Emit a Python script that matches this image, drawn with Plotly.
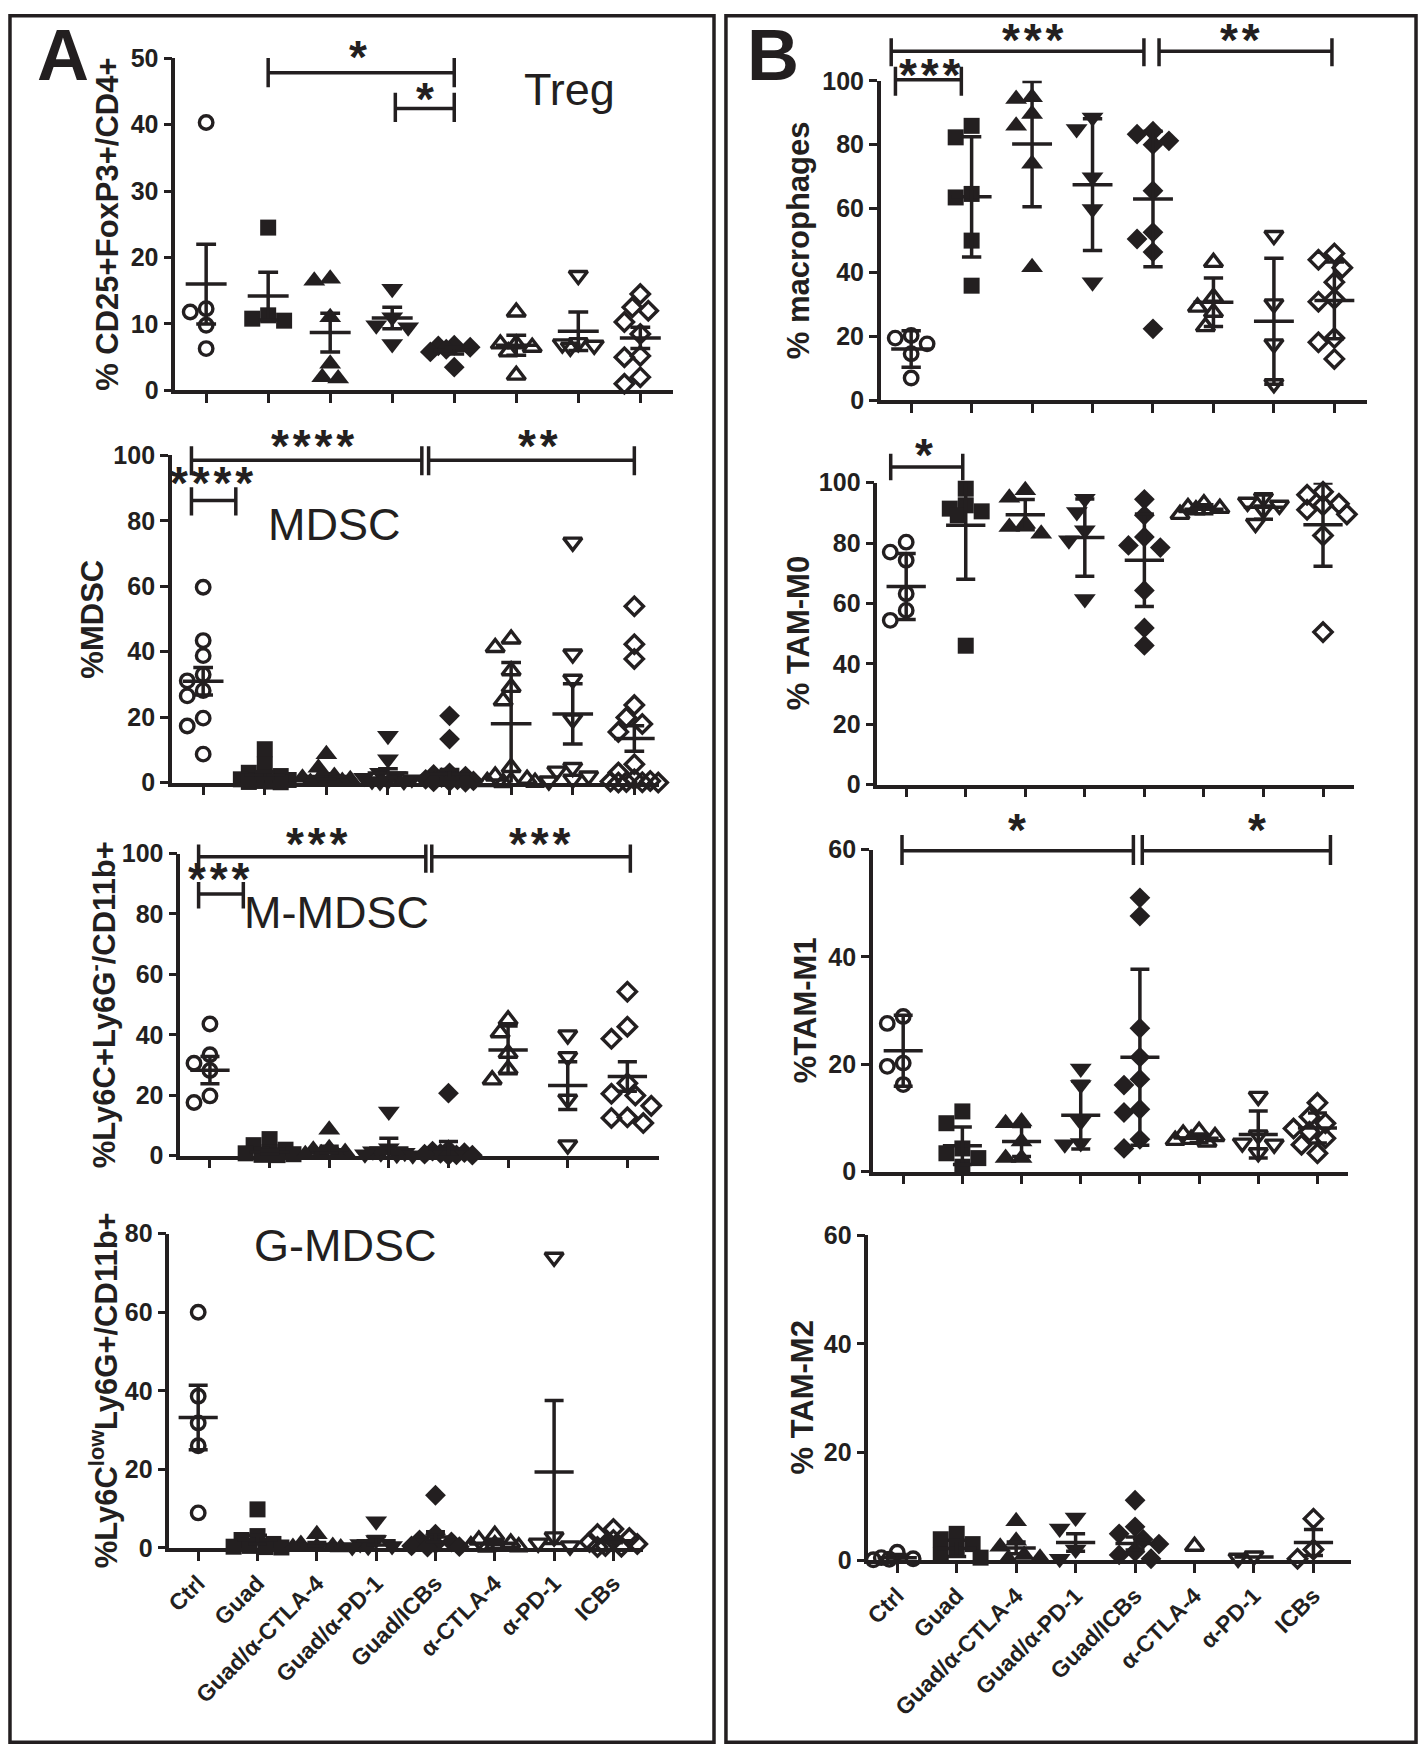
import plotly.graph_objects as go

# ---------------- data ----------------
categories = ["Ctrl", "Guad", "Guad/α-CTLA-4", "Guad/α-PD-1", "Guad/ICBs", "α-CTLA-4", "α-PD-1", "ICBs"]

treg_values = [
    [40.3, 11.8, 12.3, 9.8, 6.3],
    [24.5, 10.5, 11.3, 10.8],
    [16.8, 16.5, 11.0, 4.0, 1.8, 2.0],
    [15.3, 11.0, 9.8, 9.5, 7.0],
    [6.8, 6.5, 6.7, 6.2, 5.8, 3.5],
    [11.8, 7.0, 7.0, 6.5, 5.8, 2.3],
    [17.3, 6.8, 7.2, 7.0, 6.5],
    [14.5, 12.0, 12.5, 10.3, 8.5, 5.0, 5.2, 2.0, 1.0],
]
treg_mean = [16.0, 14.2, 8.7, 10.9, 6.0, 6.8, 8.9, 7.9]
treg_err = [6.0, 3.6, 2.9, 1.6, 0.5, 1.5, 2.9, 1.6]
treg_sig = [  # (x from, x to, bar level, cap low, cap high, label, label x, label y)
    (1, 4, 47.8, 45.6, 50.0, "*", 2.45, 51.1),
    (3.05, 4, 42.4, 40.4, 44.8, "*", 3.53, 44.8),
]

mdsc_values = [
    [59.7, 43.4, 38.8, 33.0, 31.1, 28.1, 26.5, 19.7, 17.3, 8.7],
    [10.2, 5.5, 3.0, 2.0, 1.5, 1.0, 0.8, 0.5, 0.3, 0.2, 0.1],
    [8.7, 4.5, 2.0, 1.5, 1.0, 0.8, 0.5, 0.3, 0.2, 0.1],
    [14.3, 7.1, 3.0, 2.0, 1.5, 1.0, 0.5, 0.5, 0.3, 0.2],
    [20.4, 13.3, 3.0, 2.5, 2.0, 1.5, 1.0, 0.8, 0.5, 0.3, 0.2, 0.1],
    [43.9, 41.3, 34.2, 29.1, 25.0, 4.6, 2.0, 1.0, 0.5, 0.3, 0.1, 0.0],
    [73.5, 39.3, 31.6, 19.4, 4.6, 3.5, 2.0, 1.0, 0.5],
    [53.9, 42.3, 37.8, 23.7, 19.9, 17.9, 15.5, 5.6, 3.1, 1.0, 0.5, 0.3, 0.2, 0.1, 0.0, 0.0],
]
mdsc_mean = [31.0, 2.3, 1.9, 2.9, 2.6, 18.0, 21.0, 13.5]
mdsc_err = [4.2, 1.0, 0.8, 1.3, 1.4, 18.7, 9.2, 3.9]
mdsc_sig = [
    (-0.19, 3.55, 98.5, 93.9, 102.8, "****", 1.77, 104.6),
    (3.66, 7.0, 98.5, 93.9, 102.8, "**", 5.43, 104.6),
    (-0.19, 0.53, 86.2, 81.6, 90.3, "****", 0.13, 93.4),
]

mmdsc_values = [
    [43.6, 33.4, 30.6, 28.2, 19.8, 17.6],
    [5.5, 3.5, 2.0, 1.2, 0.8, 0.5, 0.3, 0.2],
    [8.6, 2.5, 2.0, 1.2, 0.8, 0.5, 0.3],
    [14.6, 2.5, 1.5, 1.0, 0.8, 0.5, 0.3, 0.2],
    [20.7, 2.0, 1.5, 1.0, 0.8, 0.5, 0.3, 0.2, 0.1],
    [45.0, 40.7, 33.9, 28.6, 25.1],
    [40.0, 32.8, 18.7, 3.6],
    [54.3, 42.7, 38.7, 24.0, 19.9, 20.5, 16.5, 12.7, 10.8, 12.5],
]
mmdsc_mean = [28.3, 1.2, 2.0, 2.6, 2.2, 35.0, 23.2, 26.2]
mmdsc_err = [4.5, 0.6, 1.1, 3.2, 2.5, 7.9, 7.9, 4.9]
mmdsc_sig = [
    (-0.19, 3.62, 98.9, 93.6, 103.0, "***", 1.79, 105.0),
    (3.72, 7.05, 98.9, 93.6, 103.0, "***", 5.53, 105.0),
    (-0.19, 0.56, 86.6, 81.8, 90.6, "***", 0.15, 93.4),
]

gmdsc_values = [
    [60.0, 38.6, 31.8, 26.0, 8.9],
    [9.8, 3.0, 2.0, 1.0, 0.5, 0.3, 0.2, 0.1],
    [3.5, 1.0, 0.5, 0.3, 0.2, 0.1],
    [6.8, 2.0, 1.0, 0.5, 0.3, 0.2],
    [13.4, 3.5, 2.0, 1.5, 1.0, 0.5, 0.3, 0.2],
    [3.2, 2.0, 1.2, 0.8, 0.5, 0.3, 0.2],
    [74.0, 2.8, 1.2, 0.5],
    [4.8, 3.5, 2.5, 2.0, 1.5, 1.0, 0.5, 0.3, 0.2],
]
gmdsc_mean = [33.2, 2.1, 0.9, 1.8, 2.8, 1.2, 19.3, 1.8]
gmdsc_err = [8.2, 1.1, 0.5, 1.1, 1.3, 0.4, 18.2, 0.5]
gmdsc_sig = []

mac_values = [
    [20.3, 19.5, 17.7, 14.6, 7.0],
    [85.9, 82.3, 64.6, 63.5, 50.0, 35.9],
    [94.8, 94.3, 89.6, 85.9, 74.0, 41.7],
    [88.5, 84.9, 69.8, 59.9, 37.0],
    [84.2, 83.3, 81.2, 80.0, 65.6, 52.6, 50.5, 46.4, 22.4],
    [43.2, 32.3, 29.2, 27.6, 23.1],
    [51.6, 30.2, 17.7, 5.2],
    [46.0, 44.0, 41.5, 37.0, 31.8, 30.9, 19.5, 18.2, 13.0],
]
mac_mean = [16.1, 63.7, 80.2, 67.5, 63.0, 30.7, 24.8, 31.3]
mac_err = [5.7, 18.8, 19.6, 20.6, 21.2, 7.6, 19.7, 12.0]
mac_sig = [
    (-0.33, 3.85, 109.2, 104.5, 113.3, "***", 2.0, 114.6),
    (4.1, 6.96, 109.2, 104.5, 113.3, "**", 5.44, 114.6),
    (-0.26, 0.83, 100.3, 95.3, 104.4, "***", 0.31, 103.6),
]

m0_values = [
    [80.3, 77.0, 74.3, 63.2, 57.7, 54.4],
    [98.0, 92.5, 91.4, 90.5, 89.2, 46.0],
    [97.5, 95.0, 86.4, 85.3, 83.1],
    [94.7, 90.3, 84.2, 80.9, 61.5],
    [94.5, 89.2, 82.0, 79.2, 78.5, 64.3, 51.9, 46.1],
    [93.0, 91.8, 91.5, 91.0, 89.5],
    [95.0, 93.5, 92.5, 91.0, 86.5],
    [97.0, 96.0, 93.0, 92.5, 91.0, 89.5, 82.5, 50.5],
]
m0_mean = [65.6, 85.9, 89.4, 81.8, 74.3, 91.2, 91.9, 86.1]
m0_err = [10.9, 17.9, 5.0, 12.8, 15.3, 1.5, 4.0, 13.8]
m0_sig = [
    (-0.26, 0.95, 105.2, 100.8, 109.6, "*", 0.3, 111.3),
]

m1_values = [
    [28.9, 27.6, 20.2, 19.6, 16.2],
    [11.2, 9.0, 4.3, 3.4, 2.5, 0.9],
    [9.3, 9.0, 5.6, 2.5, 2.5],
    [19.2, 16.1, 9.3, 5.3, 5.1],
    [51.0, 47.6, 26.7, 21.3, 17.2, 16.1, 11.6, 11.0, 6.0, 4.3],
    [7.5, 7.0, 6.5, 6.0, 5.8, 5.5],
    [14.0, 6.8, 5.3, 5.1, 3.5],
    [12.8, 10.2, 9.0, 8.0, 7.4, 6.2, 5.0, 3.4],
]
m1_mean = [22.5, 4.8, 5.6, 10.5, 21.3, 6.2, 6.9, 8.1]
m1_err = [6.6, 3.5, 2.8, 6.3, 16.4, 0.8, 4.4, 2.8]
m1_sig = [
    (-0.02, 3.89, 59.75, 57.1, 62.7, "*", 1.93, 64.8),
    (4.04, 7.22, 59.75, 57.1, 62.7, "*", 5.98, 64.8),
]

m2_values = [
    [1.5, 0.5, 0.3, 0.2, 0.1],
    [4.9, 3.9, 3.0, 2.0, 1.0, 0.5],
    [7.2, 3.6, 2.5, 1.0, 0.5, 0.3],
    [7.9, 5.9, 2.0, 0.3],
    [11.1, 6.2, 4.9, 3.9, 3.0, 1.6, 1.0, 0.3],
    [2.6],
    [0.8, 0.4],
    [7.7, 2.0, 0.3],
]
m2_mean = [0.5, 2.2, 2.3, 3.3, 3.1, None, 0.6, 3.3]
m2_err = [0.6, 1.5, 1.1, 1.6, 1.2, 0.0, 0.0, 2.4]
m2_sig = []

# ---------------- styling / layout ----------------
W, H = 1421, 1758
INK = "#231f20"
FONT = "Liberation Sans, Arial, Helvetica, sans-serif"
# the photographed page comes out squeezed ~1.5% vertically about its centre;
# layout positions below are given in target pixels and pre-stretched accordingly
V_SQUEEZE = 0.985

SYMBOLS = ["circle-open", "square", "triangle-up", "triangle-down", "diamond",
           "triangle-up-open", "triangle-down-open", "diamond-open"]
SIZES = [13.5, 16, 19, 19, 16, 16, 16, 14]
OPEN_LW = 3.4
STAR_GAP = "\u200a"

panels = [
    dict(values=treg_values, mean=treg_mean, err=treg_err, sig=treg_sig,
         title="% CD25+FoxP3+/CD4+", title_x=102, name="Treg", name_xy=(566, 89),
         axis=170, ctrl=201, icbs=637, end=670, top=57.3, bottom=390, ymax=50, dtick=10, labels=False),
    dict(values=mdsc_values, mean=mdsc_mean, err=mdsc_err, sig=mdsc_sig,
         title="%MDSC", title_x=87, name="MDSC", name_xy=(330, 524),
         axis=166.5, ctrl=198, icbs=631, end=656, top=455, bottom=782.5, ymax=100, dtick=20, labels=False),
    dict(values=mmdsc_values, mean=mmdsc_mean, err=mmdsc_err, sig=mmdsc_sig,
         title="%Ly6C+Ly6G<sup>-</sup>/CD11b+", title_x=96, name="M-MDSC", name_xy=(332, 913),
         axis=175, ctrl=204.8, icbs=624, end=656, top=853.5, bottom=1156, ymax=100, dtick=20, labels=False),
    dict(values=gmdsc_values, mean=gmdsc_mean, err=gmdsc_err, sig=gmdsc_sig,
         title="%Ly6C<sup>low</sup>Ly6G+/CD11b+", title_x=98, name="G-MDSC", name_xy=(340, 1246),
         axis=164, ctrl=193, icbs=610, end=640, top=1234, bottom=1548.5, ymax=80, dtick=20, labels=True),
    dict(values=mac_values, mean=mac_mean, err=mac_err, sig=mac_sig,
         title="% macrophages", title_x=796, name=None,
         axis=878.5, ctrl=909, icbs=1334, end=1367, top=80, bottom=400, ymax=100, dtick=20, labels=False),
    dict(values=m0_values, mean=m0_mean, err=m0_err, sig=m0_sig,
         title="% TAM-M0", title_x=796, name=None,
         axis=875, ctrl=904, icbs=1322.6, end=1354, top=482.3, bottom=784.5, ymax=100, dtick=20, labels=False),
    dict(values=m1_values, mean=m1_mean, err=m1_err, sig=m1_sig,
         title="%TAM-M1", title_x=803, name=None,
         axis=870.6, ctrl=901, icbs=1317, end=1348, top=849.5, bottom=1171.8, ymax=60, dtick=20, labels=False),
    dict(values=m2_values, mean=m2_mean, err=m2_err, sig=m2_sig,
         title="% TAM-M2", title_x=800, name=None,
         axis=866, ctrl=895, icbs=1313, end=1351, top=1235.8, bottom=1561, ymax=60, dtick=20, labels=True),
]


def px_x(px):
    return px / W


def px_y(px):
    spec = H / 2 + (px - H / 2) / V_SQUEEZE
    return min(1.0, max(0.0, 1 - spec / H))


def axkey(kind, i):
    return kind + "axis" + ("" if i == 1 else str(i))


def axref(kind, i):
    return kind + ("" if i == 1 else str(i))


def swarm_offsets(vals, ppx, ppy, diam=16.0, maxw=0.42):
    order = sorted(range(len(vals)), key=lambda k: -vals[k])
    step = diam / 2.0
    cands = [0.0]
    k = 1
    while k * step <= maxw * ppx + 1e-9:
        cands += [-k * step, k * step]
        k += 1
    placed = []
    offs = [0.0] * len(vals)
    for i in order:
        y = vals[i] * ppy
        best, bestd = 0.0, -1.0
        for c in cands:
            d = min([((c - a) ** 2 + (y - b) ** 2) ** 0.5 for a, b in placed], default=1e9)
            if d >= 0.92 * diam:
                best = c
                break
            if d > bestd:
                best, bestd = c, d
        placed.append((best, y))
        offs[i] = best / ppx
    return offs


fig = go.Figure()
layout = dict(width=W, height=H, autosize=False, margin=dict(l=0, r=0, t=0, b=0, pad=0),
              paper_bgcolor="white", plot_bgcolor="rgba(0,0,0,0)",
              showlegend=False, font=dict(family=FONT, color=INK))
annotations = []
n = len(panels)

for i, p in enumerate(panels, start=1):
    sp = (p["icbs"] - p["ctrl"]) / 7.0
    xr = [(p["axis"] - p["ctrl"]) / sp, (p["end"] - p["ctrl"]) / sp]
    xdom = [px_x(p["axis"]), px_x(p["end"])]
    ydom = [px_y(p["bottom"]), px_y(p["top"])]
    ppy = (p["bottom"] - p["top"]) / p["ymax"]

    layout[axkey("x", i)] = dict(
        domain=xdom, range=xr, anchor=axref("y", i), showgrid=False, zeroline=False,
        showline=True, linecolor=INK, linewidth=3.5, ticks="outside", ticklen=9,
        tickwidth=3, tickcolor=INK, tickvals=list(range(len(categories))),
        ticktext=categories, showticklabels=p["labels"], tickangle=-45,
        tickfont=dict(family=FONT, size=23, color=INK, weight="bold"), fixedrange=True)
    layout[axkey("y", i)] = dict(
        domain=ydom, range=[0, p["ymax"]], anchor=axref("x", i), showgrid=False,
        zeroline=False, showline=True, linecolor=INK, linewidth=3.5, ticks="outside",
        ticklen=8, tickwidth=3, tickcolor=INK,
        tickvals=list(range(0, p["ymax"] + 1, p["dtick"])),
        tickfont=dict(family=FONT, size=25, color=INK, weight="bold"), fixedrange=True)

    xa, ya = axref("x", i), axref("y", i)

    # scatter points
    for g, vals in enumerate(p["values"]):
        offs = swarm_offsets(vals, sp, ppy)
        sym = SYMBOLS[g]
        is_open = sym.endswith("open")
        fig.add_trace(go.Scatter(
            x=[g + o for o in offs], y=vals, mode="markers", xaxis=xa, yaxis=ya,
            cliponaxis=False, hoverinfo="skip",
            marker=dict(symbol=sym, size=SIZES[g], color=INK,
                        line=dict(color=INK, width=OPEN_LW if is_open else 0))))

    # mean and error bars
    ex, ey = [], []
    for g, (m, e) in enumerate(zip(p["mean"], p["err"])):
        if m is None:
            continue
        ex += [g - 0.33, g + 0.33, None]
        ey += [m, m, None]
        if e > 0:
            lo, hi = m - e, m + e
            ex += [g, g, None, g - 0.16, g + 0.16, None, g - 0.16, g + 0.16, None]
            ey += [lo, hi, None, hi, hi, None, lo, lo, None]
    fig.add_trace(go.Scatter(x=ex, y=ey, mode="lines", xaxis=xa, yaxis=ya,
                             line=dict(color=INK, width=3.5), hoverinfo="skip"))

    # y-axis title
    annotations.append(dict(
        text=p["title"], x=px_x(p["title_x"]), y=(ydom[0] + ydom[1]) / 2, xref="paper",
        yref="paper", textangle=-90, showarrow=False, xanchor="center", yanchor="middle",
        font=dict(family=FONT, size=31, color=INK, weight="bold")))
    if p["name"]:
        nx, ny = p["name_xy"]
        annotations.append(dict(
            text=p["name"], x=px_x(nx), y=px_y(ny), xref="paper", yref="paper",
            showarrow=False, xanchor="center", yanchor="middle",
            font=dict(family=FONT, size=45, color=INK)))

    # significance brackets on an invisible, taller companion subplot with the same scale
    if p["sig"]:
        j = i + n
        ext_dom_top = px_y(max(p["top"] - 60, 6))
        ext_max = p["ymax"] * (ext_dom_top - ydom[0]) / (ydom[1] - ydom[0])
        layout[axkey("x", j)] = dict(domain=xdom, range=xr, anchor=axref("y", j),
                                     visible=False, fixedrange=True)
        layout[axkey("y", j)] = dict(domain=[ydom[0], ext_dom_top],
                                     range=[0, ext_max], anchor=axref("x", j),
                                     visible=False, fixedrange=True)
        bx, by = [], []
        for (x0, x1, lev, c0, c1, lab, lx, ly) in p["sig"]:
            bx += [x0, x1, None, x0, x0, None, x1, x1, None]
            by += [lev, lev, None, c0, c1, None, c0, c1, None]
            annotations.append(dict(
                text=STAR_GAP.join(lab), x=lx, y=ly, xref=axref("x", j), yref=axref("y", j),
                showarrow=False, xanchor="center", yanchor="middle", yshift=-6,
                font=dict(family=FONT, size=46, color=INK, weight="bold")))
        fig.add_trace(go.Scatter(x=bx, y=by, mode="lines", xaxis=axref("x", j),
                                 yaxis=axref("y", j), line=dict(color=INK, width=3.5),
                                 hoverinfo="skip"))

# panel letters
annotations.append(dict(text="A", x=px_x(57), y=px_y(54), xref="paper", yref="paper",
                        showarrow=False, xanchor="center", yanchor="middle",
                        font=dict(family=FONT, size=72, color=INK, weight="bold")))
annotations.append(dict(text="B", x=px_x(770), y=px_y(54), xref="paper", yref="paper",
                        showarrow=False, xanchor="center", yanchor="middle",
                        font=dict(family=FONT, size=72, color=INK, weight="bold")))

shapes = [
    dict(type="rect", xref="paper", yref="paper", x0=px_x(4), x1=px_x(711),
         y0=max(px_y(1752), 1.8 / H), y1=min(px_y(4), 1 - 1.8 / H),
         line=dict(color=INK, width=3.5)),
    dict(type="rect", xref="paper", yref="paper", x0=px_x(723), x1=px_x(1416),
         y0=max(px_y(1755), 1.8 / H), y1=min(px_y(4), 1 - 1.8 / H),
         line=dict(color=INK, width=3.5)),
]

layout["annotations"] = annotations
layout["shapes"] = shapes
fig.update_layout(**layout)
fig.write_html(
    "out.html",
    config={"displayModeBar": False, "responsive": False},
    post_script=("var gd=document.getElementById('{plot_id}');"
                 "gd.style.position='fixed';gd.style.top='0px';gd.style.left='0px';"
                 "document.documentElement.style.margin='0';"
                 "document.body.style.margin='0';document.body.style.padding='0';"
                 "document.body.style.overflow='hidden';"),
)
